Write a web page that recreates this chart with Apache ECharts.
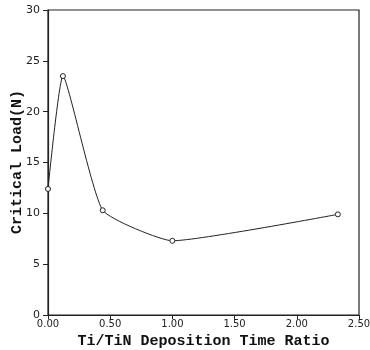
<!DOCTYPE html>
<html><head><meta charset="utf-8">
<script src="https://cdn.jsdelivr.net/npm/echarts@6/dist/echarts.min.js"></script>
<style>html,body{margin:0;padding:0;background:#fff}#c{width:370px;height:350px}</style>
</head><body><div id="c"></div>
<script>
var ratio = [0.00, 0.12, 0.44, 1.00, 2.33];
var criticalLoad = [12.4, 23.5, 10.3, 7.3, 9.9];
var xTicks = ['0.00','0.50','1.00','1.50','2.00','2.50'];
var yTicks = [0,5,10,15,20,25,30];
var yTitle = 'Critical Load(N)';
var chart = echarts.init(document.getElementById('c'));
chart.setOption({
  animation:false,
  backgroundColor:'#fff',
  grid:{left:48,right:11,top:10,bottom:35,show:true,borderColor:'#222',borderWidth:1.2,
    containLabel:false,outerBoundsMode:'none'},
  graphic:[{type:'text',x:17,y:162,rotation:Math.PI/2,
    style:{text:yTitle,fontFamily:'Liberation Mono',fontWeight:'bold',fontSize:15,fill:'#111',
      align:'center',verticalAlign:'middle'}}],
  xAxis:{type:'value',min:0,max:2.5,interval:0.5,
    name:'Ti/TiN Deposition Time Ratio',nameLocation:'middle',nameGap:19,
    nameTextStyle:{fontFamily:'Liberation Mono',fontWeight:'bold',fontSize:15,color:'#111'},
    axisLine:{lineStyle:{color:'#222',width:1.2}},
    axisTick:{length:4,lineStyle:{color:'#222'}},
    axisLabel:{fontFamily:'DejaVu Sans',fontSize:10,color:'#222',margin:4,
      formatter:function(v){return xTicks[Math.round(v/0.5)];}},
    splitLine:{show:false}},
  yAxis:{type:'value',min:0,max:30,interval:5,
    axisLine:{show:true,lineStyle:{color:'#222',width:1.2}},
    axisTick:{show:true,length:5,lineStyle:{color:'#222'}},
    axisLabel:{fontFamily:'DejaVu Sans',fontSize:11,color:'#222',margin:8,
      formatter:function(v){return String(yTicks[Math.round(v/5)]);}},
    splitLine:{show:false}},
  series:[{type:'line',data:ratio.map(function(x,i){return [x,criticalLoad[i]];}),
    smooth:0.15,symbol:'circle',symbolSize:5,
    lineStyle:{color:'#222',width:1},
    itemStyle:{color:'#fff',borderColor:'#222',borderWidth:1}}]
});
</script></body></html>
